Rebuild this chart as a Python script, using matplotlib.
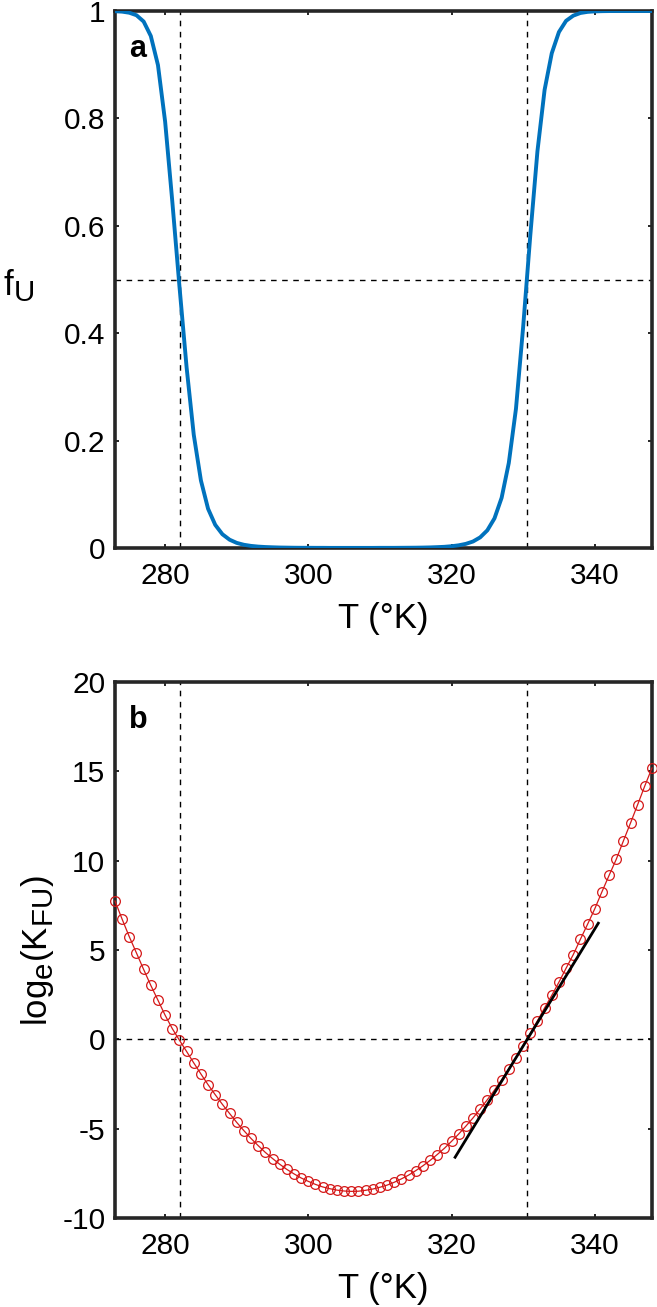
import numpy as np
import matplotlib
matplotlib.use("Agg")
import matplotlib.pyplot as plt
import matplotlib._mathtext as mtext

# MATLAB subscripts are barely smaller than the base text
mtext.SHRINK_FACTOR = 0.85

plt.rcParams['font.family'] = ['Liberation Sans', 'DejaVu Sans']
plt.rcParams['mathtext.fontset'] = 'custom'
plt.rcParams['mathtext.rm'] = 'Liberation Sans'
plt.rcParams['axes.unicode_minus'] = False

# temperature grid (K), one point per kelvin
temp = np.arange(273, 349)

# ln K_FU
lnK = [7.74, 6.72, 5.74, 4.83, 3.91, 3.02, 2.19, 1.35, 0.60, -0.05,
       -0.68, -1.32, -1.94, -2.54, -3.10, -3.64, -4.15, -4.65, -5.11, -5.55,
       -5.95, -6.33, -6.67, -6.99, -7.28, -7.53, -7.76, -7.95, -8.12, -8.26,
       -8.36, -8.44, -8.49, -8.51, -8.50, -8.45, -8.38, -8.28, -8.16, -8.00,
       -7.81, -7.60, -7.35, -7.08, -6.78, -6.45, -6.10, -5.71, -5.30, -4.86,
       -4.40, -3.90, -3.38, -2.84, -2.27, -1.67, -1.05, -0.36, 0.33, 1.04,
       1.76, 2.46, 3.20, 3.98, 4.74, 5.60, 6.44, 7.30, 8.25, 9.17,
       10.07, 11.10, 12.11, 13.14, 14.19, 15.19]

# unfolded fraction
fU = [0.9996, 0.9988, 0.9968, 0.9921, 0.9804, 0.9535, 0.8993, 0.7941, 0.6457, 0.4875,
      0.3363, 0.2108, 0.1257, 0.0730, 0.0431, 0.0256, 0.0155, 0.0095, 0.0060, 0.0039,
      0.0026, 0.0018, 0.0013, 0.0009, 0.0007, 0.0005, 0.0004, 0.0004, 0.0003, 0.0003,
      0.0002, 0.0002, 0.0002, 0.0002, 0.0002, 0.0002, 0.0002, 0.0003, 0.0003, 0.0003,
      0.0004, 0.0005, 0.0006, 0.0008, 0.0011, 0.0016, 0.0022, 0.0033, 0.0050, 0.0077,
      0.0121, 0.0198, 0.0329, 0.0552, 0.0936, 0.1584, 0.2592, 0.4110, 0.5818, 0.7389,
      0.8532, 0.9213, 0.9608, 0.9817, 0.9913, 0.9963, 0.9984, 0.9993, 0.9997, 0.9999,
      1.0, 1.0, 1.0, 1.0, 1.0, 1.0]

# cold and heat midpoints
Tm = [282.1, 330.6]

# tangent at the heat midpoint
tangent_T = [320.5, 340.5]
tangent_y = [-6.6, 6.5]

xticks = [280, 300, 320, 340]
yticks_a = [0, 0.2, 0.4, 0.6, 0.8, 1]
yticklabels_a = ['0', '0.2', '0.4', '0.6', '0.8', '1']
yticks_b = [-10, -5, 0, 5, 10, 15, 20]

W, H = 657, 1307
mydpi = 100
fig = plt.figure(figsize=(W / mydpi, H / mydpi), dpi=mydpi)

axcol = '#262626'
left = 115 / W
width = 537 / W
ax1 = fig.add_axes([left, 1 - 548 / H, width, 537 / H])
ax2 = fig.add_axes([left, 1 - 1218 / H, width, 536 / H])
dash = (0, (4, 4))


def style(ax):
    for s in ax.spines.values():
        s.set_linewidth(2.6)
        s.set_color(axcol)
    ax.tick_params(direction='in', length=3, width=1.4, colors=axcol,
                   labelcolor='black', labelsize=21.5, pad=7,
                   top=True, right=True)
    ax.tick_params(axis='x', pad=10)
    ax.set_xlim(273, 348)
    ax.set_xticks(xticks)


# panel a
ax1.plot(temp, fU, color='#0072BD', lw=2.8, zorder=3)
for t in Tm:
    ax1.axvline(t, color='black', ls=dash, lw=1.0, zorder=2)
ax1.axhline(0.5, color='black', ls=dash, lw=1.0, zorder=2)
style(ax1)
ax1.set_ylim(0, 1)
ax1.set_yticks(yticks_a)
ax1.set_yticklabels(yticklabels_a)
ax1.set_xlabel('T (°K)', fontsize=25)
ax1.xaxis.set_label_coords(0.5, -0.132)
ax1.xaxis.label.set_va('center')
ax1.set_ylabel(r'f$_\mathregular{U}$', fontsize=25, rotation=0)
ax1.yaxis.set_label_coords(-0.18, 0.49)
ax1.yaxis.label.set_va('center')
ax1.yaxis.label.set_ha('center')
ax1.text(0.026, 0.93, 'a', transform=ax1.transAxes, fontsize=22,
         fontweight='bold', ha='left', va='center')

# panel b
ax2.plot(temp, lnK, color='#d41818', lw=0.9, marker='o', ms=7,
         mfc='none', mec='#d41818', mew=0.9, zorder=3, clip_on=False)
ax2.plot(tangent_T, tangent_y, color='black', lw=2.0, zorder=4)
for t in Tm:
    ax2.axvline(t, color='black', ls=dash, lw=1.0, zorder=2)
ax2.axhline(0, color='black', ls=dash, lw=1.0, zorder=2)
style(ax2)
ax2.set_ylim(-10, 20)
ax2.set_yticks(yticks_b)
ax2.set_xlabel('T (°K)', fontsize=25)
ax2.xaxis.set_label_coords(0.5, -0.132)
ax2.xaxis.label.set_va('center')
ax2.set_ylabel(r'log$_\mathregular{e}$(K$_\mathregular{FU}$)', fontsize=25)
ax2.yaxis.set_label_coords(-0.145, 0.5)
ax2.yaxis.label.set_va('center')
ax2.yaxis.label.set_ha('center')
ax2.text(0.026, 0.93, 'b', transform=ax2.transAxes, fontsize=22,
         fontweight='bold', ha='left', va='center')

fig.savefig('out.png', dpi=mydpi)
